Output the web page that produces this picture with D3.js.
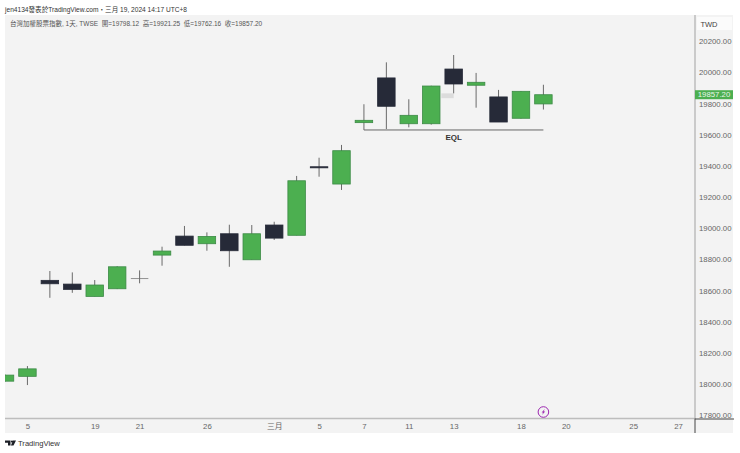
<!DOCTYPE html>
<html>
<head>
<meta charset="utf-8">
<script src="https://cdn.jsdelivr.net/npm/d3@7"></script>
<style>
  html, body { margin: 0; padding: 0; background: #fff; }
  text { font-family: "Liberation Sans", "Noto Sans CJK TC", sans-serif; }
</style>
</head>
<body>
<div id="plot"></div>
<script>
// candle slots, one per trading day, 0 is the cut off one at the left edge
var slot = [0, 1, 2, 3, 4, 5, 6, 7, 8, 9, 10, 11, 12, 13, 14, 15, 16, 17, 18, 19, 20, 21, 22, 23, 24];
var open = [18019, 18050, 18666, 18642, 18563, 18612, 18679, 18828, 18950, 18901, 18965, 18798, 19021, 18955, 19395, 19284, 19678, 19965, 19671, 19671, 20022, 19918, 19843, 19706, 19798.12];
var high = [18062, 18116, 18726, 18717, 18668, 18757, 18730, 18882, 19015, 18974, 19023, 19021, 19042, 19336, 19453, 19535, 19796, 20065, 19828, 19915, 20112, 19997, 19888, 19881, 19921.25];
var low = [18015, 17994, 18554, 18586, 18563, 18610, 18647, 18760, 18890, 18856, 18753, 18798, 18925, 18955, 19331, 19246, 19631, 19637, 19648, 19665, 19866, 19774, 19682, 19704, 19762.16];
var close = [18058, 18098, 18644, 18608, 18636, 18753, 18679, 18854, 18891, 18948, 18856, 18965, 18937, 19305, 19388, 19498, 19693, 19783, 19725, 19913, 19926, 19937, 19682, 19879, 19857.20];

var xTickSlot = [1, 4, 6, 9, 12, 14, 16, 18, 20, 23, 25, 28, 30];
var xTickLabel = ["5", "19", "21", "26", "三月", "5", "7", "11", "13", "18", "20", "25", "27"];
var yTicks = [17800, 18000, 18200, 18400, 18600, 18800, 19000, 19200, 19400, 19600, 19800, 20000, 20200];

var lastPrice = 19857.20;
var eqlLevel = 19631;
var eqlFrom = 16, eqlTo = 24;
var gapFrom = 19.45, gapTo = 20, gapTop = 19866, gapBottom = 19835;
var flashSlot = 24;

var credit = "jen4134發表於TradingView.com・三月 19, 2024 14:17 UTC+8";
var legendText = "台灣加權股票指數, 1天, TWSE  開=19798.12  高=19921.25  低=19762.16  收=19857.20";

var width = 740, height = 453;
var plotLeft = 5, plotRight = 694, plotTop = 15, plotBottom = 418.5, axisRight = 733, axisBottom = 433;
var candleWidth = 17.5;

var green = "#4caf50", greenEdge = "#3c8a46", dark = "#262a38", wick = "#6a6a6a";

var xScale = d3.scaleLinear().domain([0, 30]).range([5, 678]);
var yScale = d3.scaleLinear().domain([17800, 20200]).range([415.3, 41.3]);

var svg = d3.select("#plot").append("svg")
  .attr("width", width)
  .attr("height", height)
  .style("display", "block");

/*********************** Panels *********************/
svg.append("rect").attr("x", plotLeft).attr("y", plotTop)
  .attr("width", axisRight - plotLeft).attr("height", axisBottom - plotTop)
  .attr("fill", "#f3f3f3");

svg.append("rect").attr("x", 697).attr("y", 17).attr("width", 35).attr("height", 13)
  .attr("fill", "#fbfbfb");

svg.append("text").attr("x", 709).attr("y", 26.5)
  .attr("text-anchor", "middle").attr("font-size", 7.5).attr("fill", "#444")
  .text("TWD");

svg.append("text").attr("x", 5).attr("y", 11.5)
  .attr("font-size", 6.6).attr("fill", "#333")
  .text(credit);

svg.append("text").attr("x", 10).attr("y", 25.5)
  .attr("font-size", 6.5).attr("fill", "#555")
  .attr("xml:space", "preserve")
  .text(legendText);

/*********************** Candles *********************/
var clip = svg.append("clipPath").attr("id", "plot-clip").append("rect")
  .attr("x", plotLeft).attr("y", plotTop)
  .attr("width", plotRight - plotLeft).attr("height", plotBottom - plotTop);

var marks = svg.append("g").attr("clip-path", "url(#plot-clip)");

// faint gap box sits under the candles
marks.append("rect")
  .attr("x", xScale(gapFrom))
  .attr("y", yScale(gapTop))
  .attr("width", xScale(gapTo) - xScale(gapFrom))
  .attr("height", yScale(gapBottom) - yScale(gapTop))
  .attr("fill", "#dcdcdc");

marks.selectAll(".wick").data(slot).enter().append("line")
  .attr("class", "wick")
  .attr("x1", function (d) { return xScale(d); })
  .attr("x2", function (d) { return xScale(d); })
  .attr("y1", function (d, i) { return yScale(high[i]); })
  .attr("y2", function (d, i) { return yScale(low[i]); })
  .attr("stroke", wick)
  .attr("stroke-width", 1);

marks.selectAll(".body").data(slot).enter().append("rect")
  .attr("class", "body")
  .attr("x", function (d) { return xScale(d) - candleWidth / 2; })
  .attr("y", function (d, i) { return yScale(Math.max(open[i], close[i])); })
  .attr("width", candleWidth)
  .attr("height", function (d, i) { return Math.max(0.7, Math.abs(yScale(open[i]) - yScale(close[i]))); })
  .attr("fill", function (d, i) {
    if (close[i] == open[i]) return wick;
    return close[i] > open[i] ? green : dark;
  })
  .attr("stroke", function (d, i) {
    if (close[i] == open[i]) return "none";
    return close[i] > open[i] ? greenEdge : dark;
  })
  .attr("stroke-width", 0.8);

// equal lows marker
marks.append("line")
  .attr("x1", xScale(eqlFrom)).attr("x2", xScale(eqlTo))
  .attr("y1", yScale(eqlLevel)).attr("y2", yScale(eqlLevel))
  .attr("stroke", "#666").attr("stroke-width", 1);

svg.append("text")
  .attr("x", xScale((eqlFrom + eqlTo) / 2)).attr("y", 140)
  .attr("text-anchor", "middle").attr("font-size", 8).attr("font-weight", 700).attr("fill", "#333")
  .text("EQL");

/*********************** Axes *********************/
var yAxis = d3.axisRight(yScale).tickValues(yTicks).tickSize(0).tickPadding(4).tickFormat(d3.format(".2f"));
var gy = svg.append("g").attr("transform", "translate(695,0)").call(yAxis);
gy.select(".domain").remove();
gy.selectAll("text").style("font-size", "7.8px").attr("fill", "#666");

var xAxis = d3.axisBottom(xScale).tickValues(xTickSlot).tickSize(0).tickPadding(5)
  .tickFormat(function (d, i) { return xTickLabel[i]; });
var gx = svg.append("g").attr("transform", "translate(0," + plotBottom + ")").call(xAxis);
gx.select(".domain").remove();
gx.selectAll("text").style("font-size", "7.8px").attr("fill", "#666");

svg.append("line").attr("x1", plotLeft).attr("x2", 695).attr("y1", plotBottom).attr("y2", plotBottom)
  .attr("stroke", "#bdbdbd").attr("stroke-width", 1.5);
svg.append("line").attr("x1", 695).attr("x2", 695).attr("y1", plotTop).attr("y2", plotBottom)
  .attr("stroke", "#bdbdbd").attr("stroke-width", 1.5);
svg.append("line").attr("x1", 695).attr("x2", 695).attr("y1", plotBottom).attr("y2", axisBottom)
  .attr("stroke", "#444").attr("stroke-width", 1);
svg.append("line").attr("x1", 695).attr("x2", 734).attr("y1", plotBottom + 0.5).attr("y2", plotBottom + 0.5)
  .attr("stroke", "#444").attr("stroke-width", 1);

// last price tag
svg.append("rect").attr("x", 695).attr("y", yScale(lastPrice) - 4.5).attr("width", 38).attr("height", 9)
  .attr("fill", green);
svg.append("text").attr("x", 714).attr("y", yScale(lastPrice) + 2.7)
  .attr("text-anchor", "middle").attr("font-size", 7.8).attr("fill", "#e8f5e9")
  .text(d3.format(".2f")(lastPrice));

/*********************** Flash icon and logo *********************/
var flash = svg.append("g").attr("transform", "translate(" + xScale(flashSlot) + ",412)");
flash.append("circle").attr("r", 5.3).attr("fill", "#f3f3f3").attr("stroke", "#9c27b0").attr("stroke-width", 1);
flash.append("path").attr("d", "M1.4,-3 L-1.8,0.4 L-0.2,0.4 L-1.4,3 L1.8,-0.5 L0.2,-0.5 Z").attr("fill", "#9c27b0");

var logo = svg.append("g").attr("transform", "translate(5,440.5)").attr("fill", "#1c1f26");
logo.append("path").attr("d", "M0,0 H5.5 V5 H3 V2.2 H0 Z");
logo.append("circle").attr("cx", 7).attr("cy", 1.1).attr("r", 1.1);
logo.append("path").attr("d", "M8,0 H11 L8.5,5 H5.9 Z");

svg.append("text").attr("x", 18).attr("y", 446)
  .attr("font-size", 7.6).attr("font-weight", 400).attr("fill", "#333")
  .text("TradingView");
</script>
</body>
</html>
